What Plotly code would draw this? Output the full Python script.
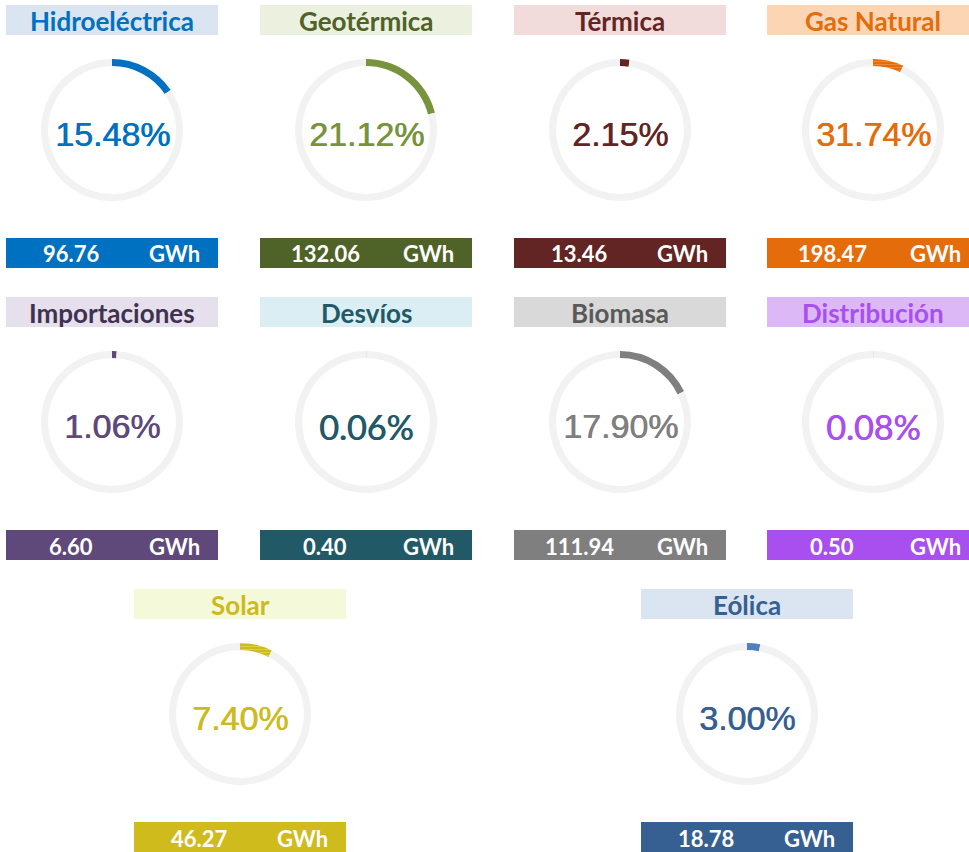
import plotly.graph_objects as go

W, H = 969, 852

# ---------------- data ----------------
names = ["Hidroeléctrica", "Geotérmica", "Térmica", "Gas Natural",
         "Importaciones", "Desvíos", "Biomasa", "Distribución",
         "Solar", "Eólica"]
share_pct = [15.48, 21.12, 2.15, 31.74, 1.06, 0.06, 17.90, 0.08, 7.40, 3.00]
# arc length actually drawn in each gauge
arc_pct = [15.48, 21.12, 2.15, 7.0, 1.06, 0.06, 17.90, 0.08, 7.40, 3.00]
energy_gwh = [96.76, 132.06, 13.46, 198.47, 6.60, 0.40, 111.94, 0.50, 46.27, 18.78]
unit = "GWh"

# ---------------- styles ----------------
arc_colors = ["#0070C0", "#77933C", "#632523", "#E46C0A", "#5F497A",
              "#215967", "#7F7F7F", "#A94FEF", "#CDBA1C", "#4F81BD"]
pct_colors = ["#0070C0", "#77933C", "#632523", "#E46C0A", "#5F497A",
              "#215967", "#7F7F7F", "#A94FEF", "#CDBA1C", "#376092"]
title_colors = ["#0070C0", "#4F6228", "#632523", "#E46C0A", "#403151",
                "#215967", "#595959", "#A94FEF", "#CDBA1C", "#376092"]
title_bg = ["#DAE5F1", "#EBF1DE", "#F2DCDB", "#FCD5B5", "#E5E0EC",
            "#DAEEF3", "#D9D9D9", "#DDB8F7", "#F4F9DA", "#DAE5F1"]
bar_colors = ["#0070C0", "#4F6228", "#632523", "#E46C0A", "#5F497A",
              "#215967", "#7F7F7F", "#A94FEF", "#CFBB1B", "#376092"]
patterned = [False, False, False, True, False, False, False, False, True, False]
pattern_fg = ["", "", "", "#F2A56A", "", "", "", "", "#EDE27A", ""]
pct_fonts = ["Liberation Sans"] * 10
pct_fonts[5] = "Lato"
pct_fonts[7] = "Lato"

# layout of cells: (center x, title top y) in pixels
cells = [(112, 5), (366, 5), (620, 5), (873, 5),
         (112, 297), (366, 297), (620, 297), (873, 297),
         (240, 589), (747, 589)]
BOX_W, BOX_H = 212, 30
DONUT_OFF, R = 125, 71
BAR_OFF = 233
RING = "#F2F2F2"


def fx(x):
    return x / W


def fy(y):
    return 1 - y / H


fig = go.Figure()
shapes = []
annotations = []

for i, (cx, top) in enumerate(cells):
    cy = top + DONUT_OFF
    marker = dict(colors=[arc_colors[i], RING], line=dict(width=0))
    if patterned[i]:
        marker["pattern"] = dict(shape=["-", ""], fillmode="overlay",
                                 fgcolor=pattern_fg[i], size=3, solidity=0.35)
    fig.add_trace(go.Pie(
        values=[arc_pct[i], 100 - arc_pct[i]],
        labels=[names[i], "resto"],
        hole=0.9, sort=False, direction="clockwise", rotation=0,
        textinfo="none", hoverinfo="skip", showlegend=False,
        marker=marker,
        domain=dict(x=[fx(cx - R), fx(cx + R)], y=[fy(cy + R), fy(cy - R)]),
    ))
    # title box
    x0, x1 = cx - BOX_W / 2, cx + BOX_W / 2
    shapes.append(dict(type="rect", xref="paper", yref="paper",
                       x0=fx(x0), x1=fx(x1), y0=fy(top + BOX_H), y1=fy(top),
                       fillcolor=title_bg[i], line=dict(width=0), layer="below"))
    annotations.append(dict(xref="paper", yref="paper", x=fx(cx), y=fy(top + BOX_H / 2 + 1),
                            text="<b>%s</b>" % names[i], showarrow=False,
                            xanchor="center", yanchor="middle",
                            font=dict(family="Lato", size=26, color=title_colors[i])))
    # percent
    annotations.append(dict(xref="paper", yref="paper", x=fx(cx), y=fy(cy + 4),
                            text="%.2f%%" % share_pct[i], showarrow=False,
                            xanchor="center", yanchor="middle",
                            font=dict(family=pct_fonts[i], size=34, color=pct_colors[i],
                                      shadow="0.7px 0px 0px %s" % pct_colors[i])))
    # bottom bar
    by = top + BAR_OFF
    shapes.append(dict(type="rect", xref="paper", yref="paper",
                       x0=fx(x0), x1=fx(x1), y0=fy(by + BOX_H), y1=fy(by),
                       fillcolor=bar_colors[i], line=dict(width=0), layer="below"))
    annotations.append(dict(xref="paper", yref="paper", x=fx(x0 + 65), y=fy(by + BOX_H / 2 + 1),
                            text="<b>%.2f</b>" % energy_gwh[i], showarrow=False,
                            xanchor="center", yanchor="middle",
                            font=dict(family="Lato", size=22, color="white")))
    annotations.append(dict(xref="paper", yref="paper", x=fx(x1 - 16), y=fy(by + BOX_H / 2 + 1),
                            text="<b>%s</b>" % unit, showarrow=False,
                            xanchor="right", yanchor="middle",
                            font=dict(family="Lato", size=22, color="white")))

fig.update_layout(
    width=W, height=H,
    margin=dict(l=0, r=0, t=0, b=0),
    paper_bgcolor="white", plot_bgcolor="white",
    shapes=shapes, annotations=annotations,
)

fig.write_html("out.html")
